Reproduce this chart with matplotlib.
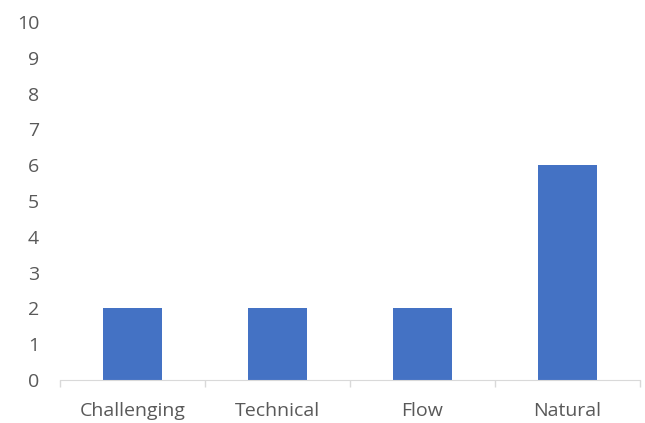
import matplotlib.pyplot as plt
import numpy as np

categories = ["Challenging", "Technical", "Flow", "Natural"]
values = [2, 2, 2, 6]
y_ticks = list(range(0, 11))

plt.rcParams["font.family"] = ["Open Sans", "DejaVu Sans"]

fig = plt.figure(figsize=(6.45, 4.23), dpi=100)
ax = fig.add_axes([0.093, 0.1017, 0.899, 0.846])

x = np.arange(len(categories))
ax.bar(x, values, width=0.41, color="#4472C4", zorder=2)

ax.set_xlim(-0.5, len(categories) - 0.5)
ax.set_ylim(0, 10)
ax.set_yticks(y_ticks)
ax.set_yticklabels([str(v) for v in y_ticks], fontsize=14, color="#595959")
ax.tick_params(axis="y", length=0, pad=15)

ax.set_xticks(x)
ax.set_xticklabels(categories, fontsize=14, color="#595959")
ax.tick_params(axis="x", length=0, pad=16)
ax.set_xticks(np.arange(-0.5, len(categories)), minor=True)
ax.tick_params(axis="x", which="minor", length=5, color="#D9D9D9", width=1)

for s in ["top", "right", "left"]:
    ax.spines[s].set_visible(False)
ax.spines["bottom"].set_color("#D9D9D9")

fig.savefig("out.png", dpi=100)
